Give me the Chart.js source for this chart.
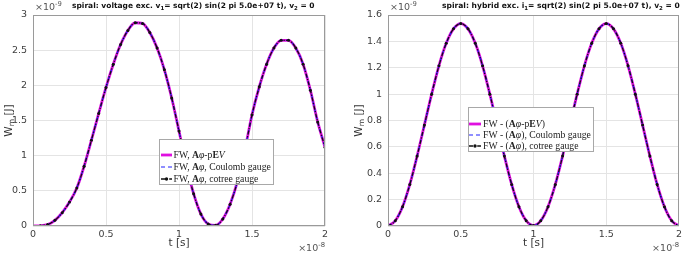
<!DOCTYPE html>
<html lang="en">
<head>
<meta charset="UTF-8">
<title>spiral: magnetic energy W_m</title>
<script src="https://cdn.jsdelivr.net/npm/chart.js"></script>
<style>
  html, body { margin: 0; padding: 0; background: #fff; }
  #wrap { position: relative; width: 685px; height: 253px; overflow: hidden; }
  canvas { position: absolute; top: 0; }
  #leftChart { left: 0; }
  #rightChart { left: 343px; }
</style>
</head>
<body>
<div id="wrap">
  <canvas id="leftChart" width="342" height="253"></canvas>
  <canvas id="rightChart" width="342" height="253"></canvas>
</div>
<script>
// time axis, in units of 1e-8 s
const tValues = [0, 0.05, 0.1, 0.15, 0.2, 0.25, 0.3, 0.35, 0.4, 0.45, 0.5,
  0.55, 0.6, 0.65, 0.7, 0.75, 0.8, 0.85, 0.9, 0.95, 1,
  1.05, 1.1, 1.15, 1.2, 1.25, 1.3, 1.35, 1.4, 1.45, 1.5,
  1.55, 1.6, 1.65, 1.7, 1.75, 1.8, 1.85, 1.9, 1.95, 2];

// W_m in units of 1e-9 J, voltage excitation (left)
const wmVoltage = [0, 0.003, 0.02, 0.08, 0.19, 0.34, 0.54, 0.85, 1.22, 1.6, 1.97,
  2.3, 2.58, 2.78, 2.89, 2.88, 2.75, 2.53, 2.22, 1.82, 1.35,
  0.87, 0.46, 0.17, 0.03, 0.01, 0.1, 0.31, 0.63, 1.07, 1.58,
  1.98, 2.3, 2.53, 2.64, 2.64, 2.53, 2.3, 1.93, 1.48, 1.12];

// W_m in units of 1e-9 J, hybrid excitation (right)
const wmHybrid = [0, 0.04, 0.146, 0.315, 0.53, 0.765, 1.0, 1.215, 1.385, 1.495, 1.535,
  1.495, 1.385, 1.215, 1.0, 0.765, 0.53, 0.315, 0.146, 0.04, 0.003,
  0.04, 0.146, 0.315, 0.53, 0.765, 1.0, 1.215, 1.385, 1.495, 1.535,
  1.495, 1.385, 1.215, 1.0, 0.765, 0.53, 0.315, 0.146, 0.04, 0];

const xTicks = [0, 0.5, 1, 1.5, 2];
const yTicksVoltage = [0, 0.5, 1, 1.5, 2, 2.5, 3];
const yTicksHybrid = [0, 0.2, 0.4, 0.6, 0.8, 1, 1.2, 1.4, 1.6];

const seriesLabelsVoltage = ['FW, Aφ-pEV', 'FW, Aφ, Coulomb gauge', 'FW, Aφ, cotree gauge'];
const seriesLabelsHybrid = ['FW - (Aφ-pEV)', 'FW - (Aφ), Coulomb gauge', 'FW - (Aφ), cotree gauge'];

// rich text pieces for legend / titles (b = bold, i = italic, sub/sup)
const legendVoltage = [
  [{t: 'FW, '}, {t: 'A', b: 1}, {t: 'φ', i: 1}, {t: '-p'}, {t: 'E', b: 1}, {t: 'V', i: 1}],
  [{t: 'FW, '}, {t: 'A', b: 1}, {t: 'φ', i: 1}, {t: ', Coulomb gauge'}],
  [{t: 'FW, '}, {t: 'A', b: 1}, {t: 'φ', i: 1}, {t: ', cotree gauge'}]
];
const legendHybrid = [
  [{t: 'FW - ('}, {t: 'A', b: 1}, {t: 'φ', i: 1}, {t: '-p'}, {t: 'E', b: 1}, {t: 'V', i: 1}, {t: ')'}],
  [{t: 'FW - ('}, {t: 'A', b: 1}, {t: 'φ', i: 1}, {t: '), Coulomb gauge'}],
  [{t: 'FW - ('}, {t: 'A', b: 1}, {t: 'φ', i: 1}, {t: '), cotree gauge'}]
];
const titleVoltage = [{t: 'spiral: voltage exc. v'}, {t: '1', sub: 1}, {t: '= sqrt(2) sin(2 pi 5.0e+07 t), v'}, {t: '2', sub: 1}, {t: ' = 0'}];
const titleHybrid = [{t: 'spiral: hybrid exc. i'}, {t: '1', sub: 1}, {t: '= sqrt(2) sin(2 pi 5.0e+07 t), v'}, {t: '2', sub: 1}, {t: ' = 0'}];

const SANS = '"DejaVu Sans", sans-serif';
const SERIF = '"Liberation Serif", "DejaVu Serif", serif';

function richRun(ctx, parts, x, y, size, family, bold, draw) {
  let cx = x;
  ctx.textAlign = 'left';
  for (const p of parts) {
    const small = p.sub || p.sup;
    const s = small ? size * 0.72 : size;
    ctx.font = (p.i ? 'italic ' : '') + ((p.b || bold) ? 'bold ' : '') + s + 'px ' + family;
    const dy = p.sub ? size * 0.32 : p.sup ? -size * 0.42 : 0;
    if (draw) ctx.fillText(p.t, cx, y + dy);
    cx += ctx.measureText(p.t).width;
  }
  return cx - x;
}

const decor = {
  id: 'decor',
  afterDraw(chart, args, o) {
    const ctx = chart.ctx;
    const a = chart.chartArea;
    ctx.save();
    // axes box
    ctx.strokeStyle = '#9a9a9a';
    ctx.lineWidth = 1;
    ctx.strokeRect(Math.round(a.left) + 0.5, Math.round(a.top) + 0.5,
      Math.round(a.right - a.left) - 1, Math.round(a.bottom - a.top) - 1);

    ctx.textBaseline = 'middle';

    // title, fitted to its width in the reference
    ctx.fillStyle = '#111';
    const w10 = richRun(ctx, o.title, 0, 0, 10, SANS, true, false);
    const ts = 10 * o.titleW / w10;
    richRun(ctx, o.title, o.titleX, 6.5, ts, SANS, true, true);

    // exponent labels
    ctx.fillStyle = '#555';
    richRun(ctx, [{t: '×10'}, {t: o.yExp, sup: 1}], a.left + 2, 8, 9.5, SANS, false, true);
    const xe = [{t: '×10'}, {t: '-8', sup: 1}];
    const xw = richRun(ctx, xe, 0, 0, 9.5, SANS, false, false);
    richRun(ctx, xe, a.right - xw, 249, 9.5, SANS, false, true);

    // x axis title
    ctx.fillStyle = '#333';
    ctx.font = '10.5px ' + SANS;
    ctx.textAlign = 'center';
    ctx.fillText('t [s]', (a.left + a.right) / 2, 243);

    // y axis title W_m [J]
    ctx.save();
    ctx.translate(o.yLabelX, (a.top + a.bottom) / 2);
    ctx.rotate(-Math.PI / 2);
    const yl = [{t: 'W'}, {t: 'm', sub: 1}, {t: ' [J]'}];
    const yw = richRun(ctx, yl, 0, 0, 10.5, SANS, false, false);
    richRun(ctx, yl, -yw / 2, 0, 10.5, SANS, false, true);
    ctx.restore();

    // legend
    const [bx, by, bw, bh] = o.legendBox;
    ctx.fillStyle = '#fff';
    ctx.fillRect(bx, by, bw, bh);
    ctx.strokeStyle = '#a8a8a8';
    ctx.lineWidth = 1;
    ctx.strokeRect(bx + 0.5, by + 0.5, bw - 1, bh - 1);
    const sets = chart.data.datasets;
    o.legend.forEach((parts, i) => {
      const ds = sets[i];
      const ry = o.legendRows[i];
      ctx.save();
      ctx.strokeStyle = ds.borderColor;
      ctx.lineWidth = ds.borderWidth;
      ctx.setLineDash(ds.borderDash || []);
      ctx.beginPath();
      ctx.moveTo(o.sampleX[0], ry);
      ctx.lineTo(o.sampleX[1], ry);
      ctx.stroke();
      if (ds.pointRadius) {
        ctx.fillStyle = ds.pointBackgroundColor;
        ctx.beginPath();
        ctx.arc((o.sampleX[0] + o.sampleX[1]) / 2, ry, ds.pointRadius + 0.2, 0, Math.PI * 2);
        ctx.fill();
      }
      ctx.restore();
      ctx.fillStyle = '#222';
      richRun(ctx, parts, o.textX, ry, 9.7, SERIF, false, true);
    });
    ctx.restore();
  }
};

function makeChart(id, values, labels, yTicks, yMax, axisW, rightPad, decorOpts) {
  const pts = tValues.map((t, i) => ({x: t, y: values[i]}));
  return new Chart(document.getElementById(id), {
    type: 'line',
    data: {
      datasets: [
        {label: labels[0], data: pts, borderColor: '#e010e0', borderWidth: 2.8,
          pointRadius: 0, order: 3},
        {label: labels[1], data: pts, borderColor: '#2020ff', borderWidth: 1.2,
          borderDash: [4, 3], pointRadius: 0, order: 2},
        {label: labels[2], data: pts, borderColor: '#111', borderWidth: 1.3,
          borderDash: [4, 1.5, 1.2, 1.5], pointRadius: 1.5, pointBackgroundColor: '#111',
          pointBorderWidth: 0, order: 1}
      ]
    },
    options: {
      responsive: false,
      animation: false,
      devicePixelRatio: 1,
      cubicInterpolationMode: 'monotone',
      layout: {padding: {top: 15, right: rightPad, left: 0, bottom: 0}},
      plugins: {legend: {display: false}, tooltip: {enabled: false}, decor: decorOpts},
      scales: {
        x: {
          type: 'linear', min: 0, max: 2,
          afterBuildTicks: s => { s.ticks = xTicks.map(v => ({value: v})); },
          afterFit: s => { s.height = 27; },
          grid: {color: '#e4e4e4', drawTicks: false},
          border: {display: false},
          ticks: {padding: 3, color: '#404040', font: {size: 9.5, family: SANS},
            maxRotation: 0, callback: v => String(v)}
        },
        y: {
          type: 'linear', min: 0, max: yMax,
          afterBuildTicks: s => { s.ticks = yTicks.map(v => ({value: v})); },
          afterFit: s => { s.width = axisW; },
          grid: {color: '#e4e4e4', drawTicks: false},
          border: {display: false},
          ticks: {padding: 6, color: '#404040', font: {size: 9.5, family: SANS},
            callback: v => String(v)}
        }
      }
    },
    plugins: [decor]
  });
}

makeChart('leftChart', wmVoltage, seriesLabelsVoltage, yTicksVoltage, 3, 33, 17, {
  title: titleVoltage, titleX: 72, titleW: 243, yExp: '-9',
  yLabelX: 9,
  legend: legendVoltage,
  legendBox: [159, 139, 115, 46], legendRows: [155, 167, 179],
  sampleX: [161, 172], textX: 173.5
});

makeChart('rightChart', wmHybrid, seriesLabelsHybrid, yTicksHybrid, 1.6, 45, 5, {
  title: titleHybrid, titleX: 99, titleW: 238, yExp: '-9',
  yLabelX: 16,
  legend: legendHybrid,
  legendBox: [125, 107, 126, 45], legendRows: [124, 135, 146],
  sampleX: [126, 138], textX: 140
});
</script>
</body>
</html>
